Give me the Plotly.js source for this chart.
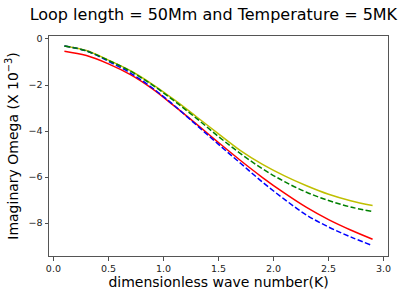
<!DOCTYPE html>
<html>
<head>
<meta charset="utf-8">
<script src="https://cdn.plot.ly/plotly-3.0.1.min.js"></script>
<style>html,body{margin:0;padding:0;background:#fff;}#chart{width:408px;height:298px;}</style>
</head>
<body>
<div id="chart"></div>
<script>
// dimensionless wave number K
const kValues = [0.1, 0.3, 0.5, 0.7, 0.9, 1.1, 1.3, 1.5, 1.7, 1.9, 2.1, 2.3, 2.5, 2.7, 2.9];
// Imaginary Omega (x 10^-3)
const redSeries    = [-0.53, -0.72, -1.08, -1.55, -2.17, -2.92, -3.70, -4.50, -5.28, -6.02, -6.70, -7.32, -7.85, -8.30, -8.70];
const yellowSeries = [-0.30, -0.50, -0.92, -1.38, -1.97, -2.65, -3.38, -4.12, -4.85, -5.45, -5.95, -6.38, -6.75, -7.03, -7.24];
const blueSeries   = [-0.30, -0.52, -0.97, -1.48, -2.13, -2.90, -3.74, -4.58, -5.40, -6.22, -6.97, -7.65, -8.17, -8.60, -8.98];
const greenSeries  = [-0.30, -0.52, -0.93, -1.40, -2.00, -2.70, -3.45, -4.24, -4.98, -5.64, -6.20, -6.66, -7.02, -7.30, -7.50];
const xTickVals = [0, 0.5, 1, 1.5, 2, 2.5, 3];
const xTickText = ['0.0', '0.5', '1.0', '1.5', '2.0', '2.5', '3.0'];
const yTickVals = [0, -2, -4, -6, -8];
const yTickText = ['0', '\u22122', '\u22124', '\u22126', '\u22128'];

const dash = '5.5px,2.4px';
const traces = [
  {x: kValues, y: redSeries, mode: 'lines', line: {color: '#ff0000', width: 1.5, shape: 'spline'}},
  {x: kValues, y: yellowSeries, mode: 'lines', line: {color: '#bfbf00', width: 1.5, shape: 'spline'}},
  {x: kValues, y: blueSeries, mode: 'lines', line: {color: '#0000ff', width: 1.5, dash: dash, shape: 'spline'}},
  {x: kValues, y: greenSeries, mode: 'lines', line: {color: '#008000', width: 1.5, dash: dash, shape: 'spline'}}
];

const axisCommon = {
  showgrid: false, zeroline: false, showline: true, mirror: true,
  linecolor: '#555', linewidth: 1,
  ticks: 'outside', ticklen: 3.5, tickwidth: 0.8, tickcolor: '#222',
  tickfont: {family: 'DejaVu Sans', size: 9.5, color: '#222'},
  automargin: false
};

const layout = {
  width: 408, height: 298,
  margin: {l: 49, r: 20, t: 36, b: 42, pad: 0},
  paper_bgcolor: '#fff', plot_bgcolor: '#fff',
  showlegend: false,
  font: {family: 'DejaVu Sans', color: '#000'},
  title: {text: 'Loop length = 50Mm and Temperature = 5MK', font: {family: 'DejaVu Sans', size: 16, color: '#000'},
          x: 0.523, xanchor: 'center', y: 0.952, yanchor: 'middle'},
  xaxis: Object.assign({}, axisCommon, {
    range: [-0.04, 3.04], tickvals: xTickVals, ticktext: xTickText,
    title: {text: 'dimensionless wave number(K)', font: {family: 'DejaVu Sans', size: 14, color: '#000'}, standoff: 2}
  }),
  yaxis: Object.assign({}, axisCommon, {
    range: [-9.43, 0.13], tickvals: yTickVals, ticktext: yTickText,
    title: {text: 'Imaginary Omega (X 10<sup>\u22123</sup>)', font: {family: 'DejaVu Sans', size: 14, color: '#000'}, standoff: 6}
  })
};

Plotly.newPlot('chart', traces, layout, {staticPlot: true, displayModeBar: false});
</script>
</body>
</html>
